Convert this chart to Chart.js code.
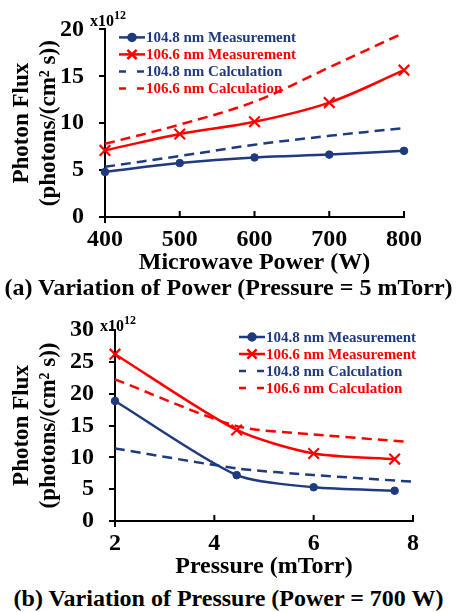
<!DOCTYPE html>
<html><head><meta charset="utf-8">
<script src="https://cdn.jsdelivr.net/npm/chart.js@4.4.1/dist/chart.umd.min.js"></script>
<style>
html,body{margin:0;padding:0;background:#fff;}
body{width:457px;height:612px;position:relative;overflow:hidden;font-family:"Liberation Serif","Times New Roman",serif;}
canvas{position:absolute;left:0;}
#ca{top:0;}
#cb{top:300px;}
.cap{position:absolute;left:0;width:457px;text-align:center;font-weight:bold;font-size:24px;line-height:24px;white-space:nowrap;color:#000;}
.mult{position:absolute;font-weight:bold;font-size:16px;line-height:16px;color:#000;white-space:nowrap;}
.mult sup{font-size:12px;position:relative;top:-1px;}
</style></head><body>
<canvas id="ca" width="457" height="277"></canvas>
<canvas id="cb" width="457" height="281"></canvas>
<div class="mult" style="left:90px;top:8px;">x10<sup>12</sup></div>
<div class="mult" style="left:100px;top:313px;">x10<sup>12</sup></div>
<div class="cap" style="top:275px;">(a) Variation of Power (Pressure = 5 mTorr)</div>
<div class="cap" style="top:586px;">(b) Variation of Pressure (Power = 700 W)</div>
<script>
// ---- Data (units of 1e12 photons/(cm^2 s)) ----
const seriesLabels = ['104.8 nm Measurement','106.6 nm Measurement','104.8 nm Calculation','106.6 nm Calculation'];

// (a) Variation of power
const powerW = [400, 500, 600, 700, 800];
const measA1048 = [4.8, 5.75, 6.35, 6.65, 7.05];
const measA1066 = [7.1, 8.85, 10.15, 12.2, 15.65];
const calcA1048 = [5.35, 6.5, 7.7, 8.65, 9.48];
const calcA1066 = [7.8, 9.85, 12.3, 15.95, 19.65];

// (b) Variation of pressure
const pressMeas = [2, 4.45, 6, 7.63];
const measB1048 = [18.85, 7.2, 5.3, 4.76];
const measB1066 = [26.2, 14.3, 10.6, 9.73];
const pressCalc1048 = [2, 4.45, 6, 8];
const calcB1048 = [11.4, 8.27, 7.22, 6.17];
const pressCalc1066 = [2, 4.45, 6, 7.85];
const calcB1066 = [22.25, 14.9, 13.6, 12.45];

const NAVY = '#1F3A7D';
const RED = '#FF0000';
const FONT = '"Liberation Serif", "Times New Roman", serif';

function pts(xs, ys){ return xs.map((x,i)=>({x:x, y:ys[i]})); }

function datasets(m1, m2, c1, c2, tension){
  return [
    {label:seriesLabels[0], data:m1, borderColor:NAVY, backgroundColor:NAVY, borderWidth:2.5,
     pointStyle:'circle', pointRadius:3.8, pointBorderWidth:1, tension:tension, clip:false},
    {label:seriesLabels[1], data:m2, borderColor:RED, backgroundColor:RED, borderWidth:2.5,
     pointStyle:'crossRot', pointRadius:7.5, pointBorderWidth:2.2, tension:tension, clip:false},
    {label:seriesLabels[2], data:c1, borderColor:NAVY, backgroundColor:NAVY, borderWidth:2.5,
     borderDash:[10,6], pointRadius:0, tension:tension, clip:false},
    {label:seriesLabels[3], data:c2, borderColor:RED, backgroundColor:RED, borderWidth:2.5,
     borderDash:[10,6], pointRadius:0, tension:tension, clip:false}
  ];
}

const legendPlugin = {
  id:'inlegend',
  afterDatasetsDraw(chart, args, opts){
    const {ctx, chartArea} = chart;
    const x0 = chartArea.left + opts.dx, y0 = chartArea.top + opts.dy;
    ctx.save();
    ctx.font = 'bold 15px ' + FONT;
    ctx.textBaseline = 'middle'; ctx.textAlign = 'left';
    chart.data.datasets.forEach((ds,i)=>{
      const y = y0 + i*opts.row;
      ctx.strokeStyle = ds.borderColor; ctx.fillStyle = ds.borderColor;
      ctx.lineWidth = ds.borderWidth; ctx.setLineDash([]);
      ctx.beginPath();
      if (ds.borderDash){
        ctx.moveTo(x0, y); ctx.lineTo(x0+7, y);
        ctx.moveTo(x0+18, y); ctx.lineTo(x0+25, y);
      } else {
        ctx.moveTo(x0, y); ctx.lineTo(x0+26, y);
      }
      ctx.stroke();
      if (!ds.borderDash){
        Chart.helpers.drawPoint(ctx, {pointStyle:ds.pointStyle, radius:ds.pointStyle==='circle'?3.5:6.5, borderWidth:ds.pointBorderWidth}, x0+13, y);
      }
      ctx.fillText(ds.label, x0+27, y+1);
    });
    ctx.restore();
  }
};

const axisPlugin = {
  id:'axisTicks',
  afterDraw(chart){
    const {ctx, chartArea, scales} = chart;
    const x = scales.x;
    ctx.save(); ctx.strokeStyle = '#000'; ctx.lineWidth = 2;
    ctx.beginPath();
    x.ticks.forEach(t=>{ const px = x.getPixelForValue(t.value); ctx.moveTo(px, chartArea.bottom); ctx.lineTo(px, chartArea.bottom-6); });
    ctx.moveTo(chartArea.left, chartArea.bottom); ctx.lineTo(chartArea.left, chartArea.bottom+6);
    ctx.stroke(); ctx.restore();
  }
};

function makeChart(id, ds, xmin, xmax, xstep, ymax, xTitle, yWidth, pad, leg){
  return new Chart(document.getElementById(id), {
    type:'line',
    data:{datasets:ds},
    plugins:[legendPlugin, axisPlugin],
    options:{
      responsive:false, animation:false, devicePixelRatio:1,
      layout:{padding:pad},
      plugins:{legend:{display:false}, tooltip:{enabled:false}, inlegend:leg},
      scales:{
        x:{type:'linear', min:xmin, max:xmax,
           afterFit(s){ s.height = 60; },
           grid:{display:false, drawTicks:false},
           border:{display:true, color:'#000', width:2},
           ticks:{stepSize:xstep, color:'#000', padding:8, font:{family:FONT, size:24, weight:'bold'}},
           title:{display:true, text:xTitle, color:'#000', padding:{top:0,bottom:0}, font:{family:FONT, size:24, weight:'bold'}}},
        y:{min:0, max:ymax,
           afterFit(s){ s.width = yWidth; },
           grid:{drawOnChartArea:false, drawTicks:true, tickLength:6, color:'#000', lineWidth:2},
           border:{display:true, color:'#000', width:2},
           ticks:{stepSize:5, color:'#000', padding:15, font:{family:FONT, size:24, weight:'bold'}},
           title:{display:true, text:['Photon Flux','(photons/(cm² s))'], color:'#000', padding:{top:8,bottom:0}, font:{family:FONT, size:23, weight:'bold'}}}
      }
    }
  });
}

makeChart('ca', datasets(pts(powerW,measA1048), pts(powerW,measA1066), pts(powerW,calcA1048), pts(powerW,calcA1066), 0.35),
  400, 800, 100, 20, 'Microwave Power (W)', 105, {top:25, right:53, left:0, bottom:0}, {dx:14, dy:8, row:17});

makeChart('cb', datasets(pts(pressMeas,measB1048), pts(pressMeas,measB1066), pts(pressCalc1048,calcB1048), pts(pressCalc1066,calcB1066), 0.25),
  2, 8, 2, 30, 'Pressure (mTorr)', 115, {top:30, right:44, left:0, bottom:0}, {dx:124, dy:7, row:17});
</script>
</body></html>
